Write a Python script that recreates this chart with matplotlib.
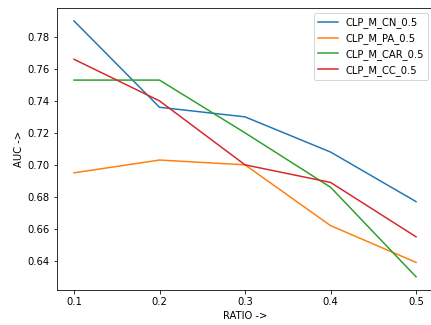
import numpy as np
import matplotlib
matplotlib.use("Agg")
import matplotlib.pyplot as plt

ratio = [0.1, 0.2, 0.3, 0.4, 0.5]

auc_cn = [0.790, 0.736, 0.730, 0.708, 0.677]
auc_pa = [0.695, 0.703, 0.700, 0.662, 0.639]
auc_car = [0.753, 0.753, 0.720, 0.686, 0.630]
auc_cc = [0.766, 0.740, 0.700, 0.689, 0.655]

fig = plt.figure(figsize=(431 / 72, 325 / 72), dpi=72)
ax = fig.add_axes([0.132, 0.109, 0.873, 0.866])

ax.plot(ratio, auc_cn, label="CLP_M_CN_0.5")
ax.plot(ratio, auc_pa, label="CLP_M_PA_0.5")
ax.plot(ratio, auc_car, label="CLP_M_CAR_0.5")
ax.plot(ratio, auc_cc, label="CLP_M_CC_0.5")

ax.set_xlabel("RATIO ->")
ax.set_ylabel("AUC ->")
ax.set_xticks(ratio)
ax.legend(loc="upper right")

fig.savefig("out.png", dpi=72)
